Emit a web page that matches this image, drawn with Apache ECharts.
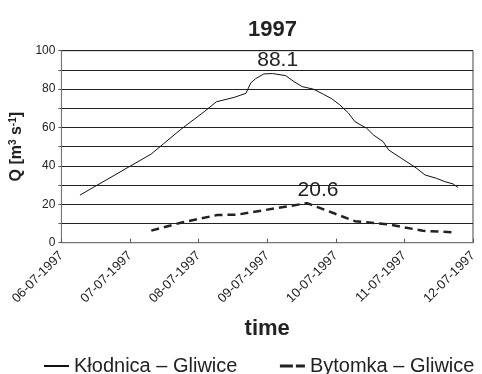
<!DOCTYPE html>
<html><head><meta charset="utf-8">
<script src="https://cdn.jsdelivr.net/npm/echarts@6/dist/echarts.min.js"></script>
<style>html,body{margin:0;padding:0;background:#fff;overflow:hidden}#c{width:482px;height:374px}</style>
</head><body><div id="c"></div>
<script>
var dateLabels = ['06-07-1997','07-07-1997','08-07-1997','09-07-1997','10-07-1997','11-07-1997','12-07-1997'];
// x = days since 06-07-1997 00:00
var klodDays = [0.27,1.31,1.74,2.08,2.26,2.52,2.69,2.76,2.83,2.95,3.08,3.27,3.39,3.51,3.68,3.82,3.94,4.06,4.18,4.28,4.45,4.55,4.69,4.77,4.98,5.18,5.30,5.47,5.59,5.71,5.78];
var klodVals = [24.8,46.2,59.0,68.2,73.4,75.7,77.8,83.2,85.4,87.9,88.1,87.0,83.9,81.3,79.9,77.3,75.0,71.7,67.7,63.0,59.6,56.1,52.6,48.3,43.4,38.7,35.3,33.5,31.8,30.6,28.8];
var bytDays = [1.31,1.74,2.27,2.56,3.58,4.28,4.79,5.27,5.75];
var bytVals = [6.3,10.4,14.4,14.6,20.6,11.2,9.4,6.2,5.4];
var seriesNames = ['Kłodnica – Gliwice','Bytomka – Gliwice'];
var peakK = 88.1, peakB = 20.6;

function pairs(xs, ys){ return xs.map(function(x,i){ return [x, ys[i]]; }); }
function peakMark(xs, ys, peak, off){
  var i = ys.indexOf(peak);
  return {symbol:'circle', symbolSize:1, itemStyle:{color:'rgba(0,0,0,0)'}, silent:true,
    label:{show:true, position:'top', distance:2, offset:off, formatter:String(peak),
      fontSize:21, color:'#222', fontFamily:'Liberation Sans'},
    data:[{coord:[xs[i], ys[i]], value:peak}]};
}
var ch = echarts.init(document.getElementById('c'));
var F = 'Liberation Sans';
ch.setOption({
  animation:false,
  textStyle:{fontFamily:F},
  title:{text:'1997', left:243, top:14, textStyle:{fontSize:22, fontWeight:'bold', color:'#222', fontFamily:F}},
  grid:{left:60, right:9, top:50.7, bottom:131.3, show:true, borderColor:'#444', borderWidth:1},
  legend:{top:351, left:38, itemWidth:25, itemHeight:14, itemGap:41,
    itemStyle:{opacity:0},
    textStyle:{fontSize:20, color:'#222', fontFamily:F},
    data:[{name:seriesNames[0]}, {name:seriesNames[1], lineStyle:{type:[13,3], width:3}}]},
  xAxis:{type:'value', min:0, max:6, interval:1,
    name:'time', nameLocation:'middle', nameGap:75,
    nameTextStyle:{fontSize:22, fontWeight:'bold', color:'#222', fontFamily:F},
    axisLine:{lineStyle:{color:'#777', width:1}},
    axisTick:{show:true, inside:true, length:4, lineStyle:{color:'#555'}},
    splitLine:{show:false},
    axisLabel:{rotate:45, fontSize:13, color:'#222', margin:11, fontFamily:F,
      formatter:function(v){return dateLabels[Math.round(v)];}}},
  yAxis:{type:'value', min:0, max:100, interval:10,
    name:'{n|Q [m}{s|3}{n| s}{s|-1}{n|]}', nameLocation:'middle', nameRotate:90, nameGap:33,
    nameTextStyle:{rich:{n:{fontSize:16, fontWeight:'bold', color:'#222', fontFamily:F},
                          s:{fontSize:10, fontWeight:'bold', color:'#222', fontFamily:F, verticalAlign:'top', padding:[0,0,7,0]}}},
    axisLine:{show:true, lineStyle:{color:'#777'}},
    axisTick:{show:true, length:3, lineStyle:{color:'#555'}},
    splitLine:{lineStyle:{color:'#222', width:1}},
    axisLabel:{fontSize:12, color:'#222', margin:6, fontFamily:F,
      formatter:function(v){return v % 20 === 0 ? String(v) : '';}}},
  series:[
    {name:seriesNames[0], type:'line', symbol:'none', smooth:false,
     lineStyle:{color:'#111', width:1}, itemStyle:{color:'#111'},
     data:pairs(klodDays, klodVals), markPoint:peakMark(klodDays, klodVals, peakK, [5,0])},
    {name:seriesNames[1], type:'line', symbol:'none',
     lineStyle:{color:'#222', width:2.5, type:[8,5]}, itemStyle:{color:'#222'},
     data:pairs(bytDays, bytVals), markPoint:peakMark(bytDays, bytVals, peakB, [11,0])}
  ]
});
</script></body></html>
